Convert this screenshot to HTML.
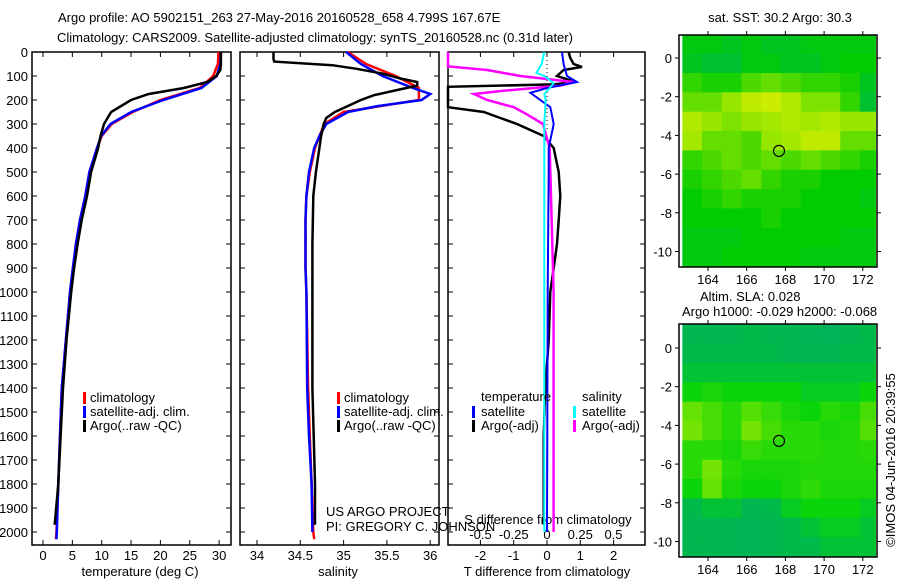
<!DOCTYPE html>
<html><head><meta charset="utf-8">
<style>
html,body{margin:0;padding:0;background:#fff;}
svg{display:block;font-family:"Liberation Sans",sans-serif;}
text{font-size:13px;fill:#000;}
</style></head>
<body>
<svg id="fig" width="900" height="580" viewBox="0 0 900 580">
<text x="58" y="22">Argo profile: AO 5902151_263 27-May-2016 20160528_658 4.799S 167.67E</text>
<text x="57" y="42">Climatology: CARS2009. Satellite-adjusted climatology: synTS_20160528.nc (0.31d later)</text>
<text x="780" y="22" text-anchor="middle">sat. SST: 30.2 Argo: 30.3</text>
<text x="700" y="301">Altim. SLA: 0.028</text>
<text x="682" y="316">Argo h1000: -0.029 h2000: -0.068</text>
<text transform="translate(895,460) rotate(-90)" text-anchor="middle">©IMOS 04-Jun-2016 20:39:55</text>
<text x="326" y="516">US ARGO PROJECT</text>
<text x="326" y="531">PI: GREGORY C. JOHNSON</text>
</svg>
<script>
// ---- data ----
const depthTicks=[0,100,200,300,400,500,600,700,800,900,1000,1100,1200,1300,1400,1500,1600,1700,1800,1900,2000];
const tempTicks=[0,5,10,15,20,25,30];
const salTicks=[34,34.5,35,35.5,36];
const tdTicks=[-2,-1,0,1,2];
const sdTicks=[-0.5,-0.25,0,0.25,0.5];
const sdTickLabels=["-0.5","-0.25","0","0.25","0.5"];
const lonTicks=[164,166,168,170,172];
const latTicks=[0,-2,-4,-6,-8,-10];

const tClimDepth=[0,50,100,150,200,250,300,350,400,500,600,700,800,900,1000,1400,1600,1800,2000,2030];
const tClim=[29.9,29.8,29.0,26.7,20.0,15.3,11.7,10.0,9.2,7.9,7.2,6.3,5.6,5.1,4.6,3.2,2.9,2.6,2.3,2.2];
const tSat=[30.3,30.2,29.6,27.0,20.5,15.0,11.5,9.9,9.2,7.9,7.2,6.3,5.6,5.1,4.6,3.2,2.9,2.6,2.35,2.3];
const tArgoDepth=[0,50,75,100,125,150,175,200,250,300,350,400,500,600,700,800,900,1000,1200,1400,1600,1800,1970];
const tArgo=[30.3,30.3,30.2,29.5,28.0,24.0,18.0,15.0,11.6,10.4,9.8,9.4,8.2,7.5,6.6,5.9,5.3,4.8,4.0,3.4,3.0,2.6,2.0];

const sClim=[35.05,35.26,35.6,35.87,35.87,35.0,34.78,34.72,34.67,34.61,34.57,34.56,34.56,34.56,34.57,34.59,34.61,34.63,34.65,34.66];
const sSatDepth=[0,50,100,150,175,200,225,250,300,350,400,500,600,700,800,900,1000,1400,1600,1800,2000];
const sSat=[35.03,35.2,35.45,35.8,36.0,35.9,35.4,35.05,34.8,34.72,34.66,34.6,34.57,34.56,34.56,34.56,34.57,34.58,34.6,34.63,34.64];
const sArgoDepth=[0,30,40,55,70,90,110,125,140,160,180,200,225,250,275,300,350,400,500,600,800,1000,1400,1800,1970];
const sArgo=[34.19,34.19,34.2,34.87,35.15,35.45,35.65,35.85,35.85,35.6,35.35,35.2,35.05,34.9,34.8,34.77,34.74,34.72,34.68,34.65,34.64,34.64,34.64,34.67,34.67];

const tdArgoDepth=[0,25,50,62,75,100,125,135,145,160,200,230,250,275,300,350,400,500,600,700,800,900,1000,1200,1400,1600,1800,1970];
const tdArgo=[0.65,0.7,0.8,1.05,0.5,0.3,0.85,0.2,-3,-3,-3,-3,-1.9,-1.4,-0.9,-0.1,0.2,0.35,0.4,0.35,0.3,0.2,0.1,0.05,-0.05,-0.1,-0.1,-0.1];
const tdSatDepth=[0,50,100,125,150,170,200,230,300,400,500,1000,2000];
const tdSat=[0.45,0.5,0.6,0.9,0.0,-0.5,-0.2,0.1,0.2,0.05,0.05,0.02,0.0];
const sdArgoDepth=[0,60,75,100,125,140,160,175,200,230,260,300,400,600,1000,2000];
const sdArgo=[-0.9,-0.8,-0.45,-0.2,0.2,0.1,-0.3,-0.55,-0.45,-0.25,-0.15,-0.03,0.02,0.03,0.05,0.05];
const sdSatDepth=[0,50,87,100,130,150,175,200,300,1000,2000];
const sdSat=[-0.02,-0.04,-0.08,-0.02,0.05,0.02,-0.02,-0.01,-0.02,-0.02,-0.02];

const sstGrid=[
[0.35,0.35,0.3,0.35,0.3,0.3,0.35,0.35,0.35,0.35],
[0.3,0.25,0.25,0.35,0.35,0.3,0.3,0.35,0.4,0.4],
[0.5,0.45,0.45,0.55,0.6,0.55,0.5,0.5,0.45,0.3],
[0.6,0.6,0.7,0.85,0.9,0.8,0.65,0.65,0.5,0.25],
[0.8,0.7,0.65,0.7,0.75,0.8,0.75,0.8,0.7,0.7],
[0.75,0.6,0.6,0.55,0.7,0.75,0.85,0.85,0.6,0.6],
[0.5,0.55,0.6,0.55,0.6,0.55,0.6,0.55,0.5,0.45],
[0.45,0.5,0.55,0.6,0.5,0.45,0.45,0.4,0.4,0.4],
[0.4,0.45,0.5,0.45,0.45,0.45,0.4,0.4,0.4,0.35],
[0.4,0.4,0.4,0.4,0.45,0.4,0.4,0.4,0.4,0.4],
[0.35,0.35,0.35,0.4,0.4,0.4,0.4,0.4,0.35,0.35],
[0.35,0.35,0.4,0.4,0.4,0.4,0.35,0.35,0.35,0.35]];
const slaGrid=[
[0.3,0.3,0.3,0.35,0.3,0.3,0.2,0.15,0.3,0.35],
[0.35,0.35,0.35,0.35,0.35,0.3,0.25,0.25,0.35,0.35],
[0.4,0.4,0.4,0.4,0.4,0.4,0.4,0.4,0.4,0.4],
[0.5,0.55,0.5,0.5,0.5,0.5,0.45,0.45,0.45,0.5],
[0.8,0.7,0.6,0.75,0.65,0.55,0.5,0.6,0.55,0.7],
[0.85,0.7,0.6,0.85,0.7,0.6,0.6,0.55,0.58,0.75],
[0.6,0.6,0.55,0.65,0.6,0.6,0.6,0.58,0.58,0.6],
[0.6,0.85,0.6,0.55,0.55,0.55,0.58,0.58,0.58,0.58],
[0.5,0.8,0.55,0.5,0.5,0.55,0.62,0.55,0.55,0.55],
[0.35,0.4,0.4,0.3,0.35,0.45,0.5,0.5,0.5,0.45],
[0.3,0.3,0.25,0.2,0.3,0.35,0.4,0.45,0.45,0.4],
[0.3,0.3,0.25,0.2,0.3,0.35,0.35,0.4,0.4,0.4]];
const argoLon=167.67, argoLat=-4.8;

// ---- drawing ----
const NS="http://www.w3.org/2000/svg";
const svg=document.getElementById('fig');
function mk(tag,attrs,parent){const e=document.createElementNS(NS,tag);for(const k in attrs)e.setAttribute(k,attrs[k]);(parent||svg).appendChild(e);return e;}
const yD=d=>52+d*0.24;
const PT=52,PB=545;
function frame(x0,x1,name){
  const r=mk('rect',{x:x0,y:PT,width:x1-x0,height:PB-PT,fill:'none',stroke:'#000','stroke-width':1.5});
  
  
  depthTicks.forEach(d=>{
    mk('line',{x1:x0,x2:x0+5,y1:yD(d),y2:yD(d),stroke:'#000'});
    mk('line',{x1:x1-5,x2:x1,y1:yD(d),y2:yD(d),stroke:'#000'});
  });
}
function line(xs,ds,fx,color,name,w){
  const pts=xs.map((v,i)=>fx(v).toFixed(1)+','+yD(ds[i]).toFixed(1)).join(' ');
  const p=mk('polyline',{points:pts,fill:'none',stroke:color,'stroke-width':w||2.5});
  
  
}
function txt(x,y,s,anchor,name){const t=mk('text',{x:x,y:y,'text-anchor':anchor||'start'});t.textContent=s;
  
  
  return t;}

// panel 1 temperature
const xT=v=>43+v*5.87;
frame(32,231,'temperature-panel');
depthTicks.forEach(d=>txt(28,yD(d)+5,String(d),'end','depth-tick-label'));
tempTicks.forEach(v=>{mk('line',{x1:xT(v),x2:xT(v),y1:PB,y2:PB-5,stroke:'#000'});mk('line',{x1:xT(v),x2:xT(v),y1:PT,y2:PT+5,stroke:'#000'});txt(xT(v),560,String(v),'middle','temperature-tick-label');});
txt(140,576,'temperature (deg C)','middle','temperature-axis-title');
line(tClim,tClimDepth,xT,'#f00','temp-climatology-line');
line(tSat,tClimDepth,xT,'#00f','temp-satellite-line');
line(tArgo,tArgoDepth,xT,'#000','temp-argo-line');
[['#f00','climatology'],['#00f','satellite-adj. clim.'],['#000','Argo(..raw -QC)']].forEach((l,i)=>{
  mk('rect',{x:83,y:392+i*14,width:3,height:12,fill:l[0]});
  txt(90,402+i*14,l[1],'start','temp-legend-entry');
});

// panel 2 salinity
const xS=v=>257+(v-34)*86.6;
frame(240,439,'salinity-panel');
salTicks.forEach(v=>{mk('line',{x1:xS(v),x2:xS(v),y1:PB,y2:PB-5,stroke:'#000'});mk('line',{x1:xS(v),x2:xS(v),y1:PT,y2:PT+5,stroke:'#000'});txt(xS(v),560,String(v),'middle','salinity-tick-label');});
txt(338,576,'salinity','middle','salinity-axis-title');
line(sClim,tClimDepth,xS,'#f00','sal-climatology-line');
line(sSat,sSatDepth,xS,'#00f','sal-satellite-line');
line(sArgo,sArgoDepth,xS,'#000','sal-argo-line');
[['#f00','climatology'],['#00f','satellite-adj. clim.'],['#000','Argo(..raw -QC)']].forEach((l,i)=>{
  mk('rect',{x:337,y:392+i*14,width:3,height:12,fill:l[0]});
  txt(344,402+i*14,l[1],'start','sal-legend-entry');
});

// panel 3 differences
const xTd=v=>Math.max(448,Math.min(645,547+v*33.3));
const xSd=v=>Math.max(448,Math.min(645,547+v*133));
frame(448,645,'difference-panel');
mk('line',{x1:547,x2:547,y1:PT,y2:yD(330),stroke:'#000','stroke-dasharray':'1,3'});
tdTicks.forEach(v=>{mk('line',{x1:xTd(v),x2:xTd(v),y1:PB,y2:PB-5,stroke:'#000'});mk('line',{x1:xTd(v),x2:xTd(v),y1:PT,y2:PT+5,stroke:'#000'});txt(xTd(v),560,String(v),'middle','tdiff-tick-label');});
sdTicks.forEach((v,i)=>txt(xSd(v),539,sdTickLabels[i],'middle','sdiff-tick-label'));
txt(548,524,'S difference from climatology','middle','sdiff-axis-title');
txt(547,576,'T difference from climatology','middle','tdiff-axis-title');
line(tdArgo,tdArgoDepth,xTd,'#000','tdiff-argo-line');
line(sdArgo,sdArgoDepth,xSd,'#f0f','sdiff-argo-line');
line(tdSat,tdSatDepth,xTd,'#00f','tdiff-satellite-line',2);
line(sdSat,sdSatDepth,xSd,'#0ff','sdiff-satellite-line',2);
txt(481,401,'temperature','start','legend-temperature-header');
txt(582,401,'salinity','start','legend-salinity-header');
[['#00f','satellite',472],['#000','Argo(-adj)',472],['#0ff','satellite',573],['#f0f','Argo(-adj)',573]].forEach((l,i)=>{
  const r=i%2;mk('rect',{x:l[2],y:406+r*14,width:3,height:12,fill:l[0]});
  txt(l[2]+9,416+r*14,l[1],'start','diff-legend-entry');
});

// maps
const xL=lon=>708+(lon-164)*19.35;
function lerp(a,b,t){return a.map((v,i)=>Math.round(v+(b[i]-v)*t));}
function sstColor(v){const stops=[[0,[0,176,128]],[0.4,[0,204,0]],[0.7,[150,230,0]],[1,[230,240,0]]];
  for(let i=1;i<stops.length;i++){if(v<=stops[i][0]){const t=(v-stops[i-1][0])/(stops[i][0]-stops[i-1][0]);return 'rgb('+lerp(stops[i-1][1],stops[i][1],t)+')';}}return 'rgb(230,240,0)';}
function slaColor(v){const stops=[[0,[0,175,100]],[0.35,[0,185,75]],[0.5,[10,212,10]],[1,[160,235,0]]];
  for(let i=1;i<stops.length;i++){if(v<=stops[i][0]){const t=(v-stops[i-1][0])/(stops[i][0]-stops[i-1][0]);return 'rgb('+lerp(stops[i-1][1],stops[i][1],t)+')';}}return 'rgb(160,235,0)';}
function map(y0,y1,lat0y,grid,colorFn,name){
  const yL=lat=>lat0y-lat*19.35;
  const g=mk('g',{});
  
  
  const cid='clip'+name;const cp=mk('clipPath',{id:cid});mk('rect',{x:680,y:y0,width:196,height:y1-y0},cp);
  const cg=mk('g',{'clip-path':'url(#'+cid+')'},g);
  grid.forEach((row,r)=>row.forEach((v,c)=>{
    const cell=mk('rect',{x:xL(162.7+c*1.02)-0.5,y:yL(1.2-r)-0.5,width:20.7,height:20.4,fill:colorFn(v)},cg);
    
    
  }));
  mk('rect',{x:679,y:y0,width:198,height:y1-y0,fill:'none',stroke:'#000','stroke-width':1.5},g);
  lonTicks.forEach(l=>{mk('line',{x1:xL(l),x2:xL(l),y1:y0-4,y2:y0,stroke:'#000'},g);mk('line',{x1:xL(l),x2:xL(l),y1:y1,y2:y1+4,stroke:'#000'},g);
    txt(xL(l),y1+17,String(l),'middle','lon-tick-label');});
  latTicks.forEach(l=>{mk('line',{x1:675,x2:679,y1:yL(l),y2:yL(l),stroke:'#000'},g);mk('line',{x1:877,x2:881,y1:yL(l),y2:yL(l),stroke:'#000'},g);
    txt(672,yL(l)+5,String(l),'end','lat-tick-label');});
  const c=mk('circle',{cx:xL(argoLon),cy:yL(argoLat),r:5.5,fill:'none',stroke:'#000','stroke-width':1.2},g);
  
  
}
map(35,267,58,sstGrid,sstColor,'sst-map');
map(324,557,348,slaGrid,slaColor,'sla-map');
</script>
</body></html>
